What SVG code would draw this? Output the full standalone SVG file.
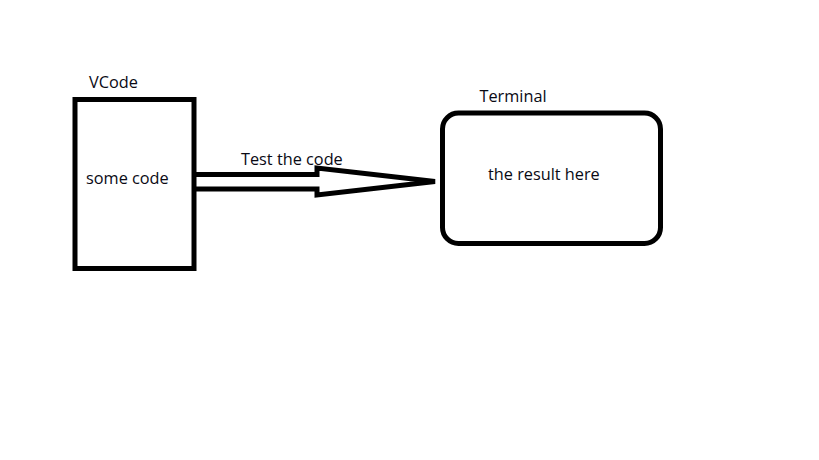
<svg xmlns="http://www.w3.org/2000/svg" width="819" height="460" viewBox="0 0 819 460">
<style>
.box{fill:#fff;stroke:#000;stroke-width:5}
.conn{fill:none;stroke:#000;stroke-width:5;stroke-linejoin:miter}
text{font-family:"Open Sans","Noto Sans","DejaVu Sans",sans-serif;font-size:16.3px;fill:#0a0a14}
</style>
<rect width="819" height="460" fill="#fff"/>
<g id="connectors">
<path class="conn" d="M196,174.5 L317,174.5 L317,168 L435,181.5 L317,195 L317,189 L196,189"/>
<text x="241" y="164.5">Test the code</text>
</g>
<g id="vcode">
<rect class="box" x="75" y="99.5" width="119" height="169"/>
<text x="89" y="87.5">VCode</text>
<text x="86" y="183.5">some code</text>
</g>
<g id="terminal">
<rect class="box" x="442.5" y="113" width="218" height="130.5" rx="16"/>
<text x="479.5" y="102">Terminal</text>
<text x="488" y="180">the result here</text>
</g>
</svg>
